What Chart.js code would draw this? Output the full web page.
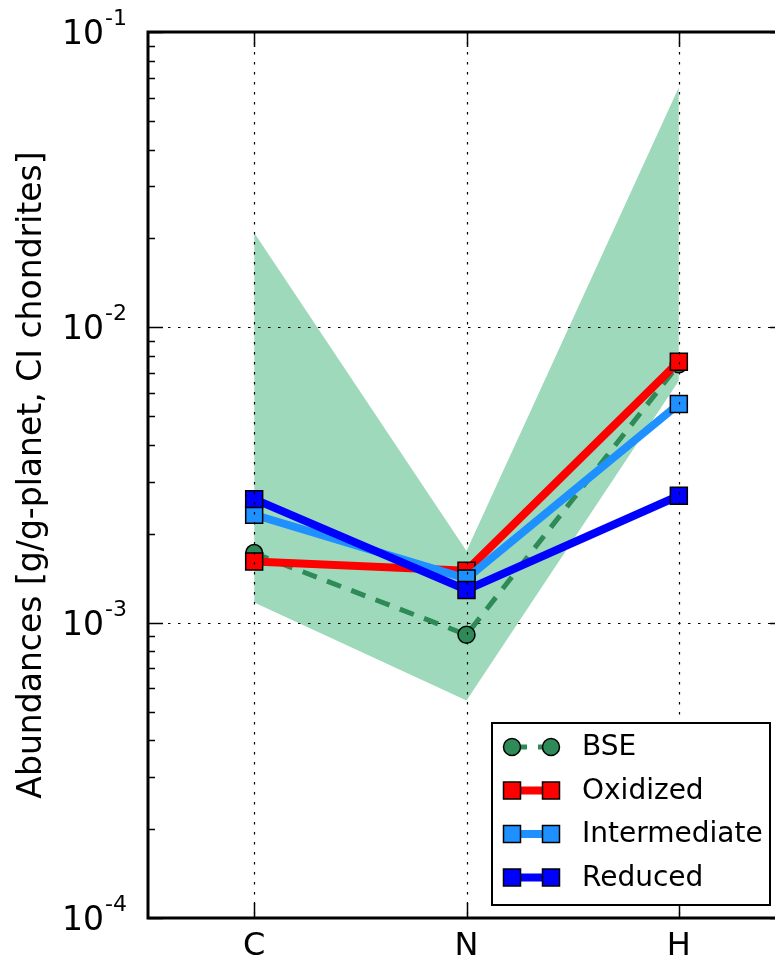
<!DOCTYPE html>
<html>
<head>
<meta charset="utf-8">
<script src="https://cdn.jsdelivr.net/npm/chart.js@4"></script>
<style>
  html, body { margin: 0; padding: 0; background: #fff; overflow: hidden; }
  #wrap { width: 775px; height: 960px; overflow: hidden; }
</style>
</head>
<body>
<div id="wrap"><canvas id="graphCanvas" width="800" height="960"></canvas></div>
<script>
// categories on the x axis
const elements = ['C', 'N', 'H'];

// abundances (g/g-planet)
const bse = [1.72e-3, 0.91e-3, 7.5e-3];
const oxidized = [1.61e-3, 1.5e-3, 7.65e-3];
const intermediate = [2.32e-3, 1.41e-3, 5.5e-3];
const reduced = [2.62e-3, 1.29e-3, 2.69e-3];

// shaded BSE range
const bseUpper = [2.09e-2, 1.75e-3, 6.5e-2];
const bseLower = [1.17e-3, 0.545e-3, 6.6e-3];

// y tick decades
const yDecades = [-4, -3, -2, -1];

const yTitle = 'Abundances [g/g-planet, CI chondrites]';
const FONT = '"DejaVu Sans", sans-serif';

function pts(arr) {
    return arr.map((v, i) => ({ x: i, y: v }));
}

// grid, frame, ticks, labels and legend drawn on top of the datasets
const decorPlugin = {
    id: 'decor',
    afterDatasetsDraw(chart) {
        const ctx = chart.ctx;
        const area = chart.chartArea;
        const xs = chart.scales.x;
        const ys = chart.scales.y;
        ctx.save();

        // dotted grid lines
        ctx.strokeStyle = '#000';
        ctx.lineWidth = 1.2;
        ctx.setLineDash([2.5, 7.5]);
        elements.forEach((e, i) => {
            const px = Math.round(xs.getPixelForValue(i)) + 0.5;
            ctx.beginPath();
            ctx.moveTo(px, area.top);
            ctx.lineTo(px, area.bottom);
            ctx.stroke();
        });
        yDecades.forEach(d => {
            const py = Math.round(ys.getPixelForValue(Math.pow(10, d))) + 0.5;
            if (py <= area.top + 2 || py >= area.bottom - 2) return;
            ctx.beginPath();
            ctx.moveTo(area.left, py);
            ctx.lineTo(area.right, py);
            ctx.stroke();
        });
        ctx.setLineDash([]);

        // ticks (pointing inward)
        ctx.lineWidth = 1.5;
        elements.forEach((e, i) => {
            const px = Math.round(xs.getPixelForValue(i)) + 0.5;
            ctx.beginPath();
            ctx.moveTo(px, area.bottom);
            ctx.lineTo(px, area.bottom - 15);
            ctx.moveTo(px, area.top);
            ctx.lineTo(px, area.top + 15);
            ctx.stroke();
        });
        for (let d = yDecades[0]; d <= yDecades[yDecades.length - 1]; d++) {
            for (let m = 1; m <= 9; m++) {
                const v = m * Math.pow(10, d);
                if (v > 0.1 + 1e-9) continue;
                const py = Math.round(ys.getPixelForValue(v)) + 0.5;
                const len = m === 1 ? 15 : 7;
                ctx.beginPath();
                ctx.moveTo(area.left, py);
                ctx.lineTo(area.left + len, py);
                ctx.moveTo(area.right, py);
                ctx.lineTo(area.right - len, py);
                ctx.stroke();
            }
        }

        // frame
        ctx.lineWidth = 3;
        ctx.strokeRect(area.left, area.top, area.right - area.left, area.bottom - area.top);

        // y tick labels 10^d
        ctx.fillStyle = '#000';
        yDecades.forEach(d => {
            const py = ys.getPixelForValue(Math.pow(10, d));
            ctx.font = '33px ' + FONT;
            ctx.textAlign = 'right';
            ctx.textBaseline = 'alphabetic';
            ctx.fillText('10', 104, py + 12);
            ctx.font = '22px ' + FONT;
            ctx.textAlign = 'left';
            ctx.fillText(String(d), 105, py - 7);
        });

        // x tick labels
        ctx.font = '32px ' + FONT;
        ctx.textAlign = 'center';
        elements.forEach((e, i) => {
            ctx.fillText(e, xs.getPixelForValue(i), 955);
        });

        // y axis title
        ctx.save();
        ctx.translate(41, (area.top + area.bottom) / 2);
        ctx.rotate(-Math.PI / 2);
        ctx.font = '33px ' + FONT;
        ctx.textAlign = 'center';
        ctx.textBaseline = 'alphabetic';
        ctx.fillText(yTitle, 0, 0);
        ctx.restore();

        // legend box
        const lx = 492, ly = 723, lw = 278, lh = 182;
        ctx.fillStyle = '#fff';
        ctx.fillRect(lx, ly, lw, lh);
        ctx.lineWidth = 2;
        ctx.strokeStyle = '#000';
        ctx.strokeRect(lx, ly, lw, lh);

        const series = chart.data.datasets.filter(ds => ds.showInLegend);
        series.forEach((ds, k) => {
            const cy = 747 + k * 43.5;
            const x1 = 512, x2 = 551;
            ctx.strokeStyle = ds.borderColor;
            ctx.lineWidth = ds.borderWidth;
            ctx.setLineDash(ds.borderDash || []);
            ctx.beginPath();
            ctx.moveTo(x1, cy);
            ctx.lineTo(x2, cy);
            ctx.stroke();
            ctx.setLineDash([]);
            [x1, x2].forEach(mx => {
                ctx.fillStyle = ds.pointBackgroundColor;
                ctx.strokeStyle = '#000';
                ctx.lineWidth = 1.5;
                ctx.beginPath();
                if (ds.pointStyle === 'rect') {
                    ctx.rect(mx - 8.5, cy - 8.5, 17, 17);
                } else {
                    ctx.arc(mx, cy, 8.5, 0, Math.PI * 2);
                }
                ctx.fill();
                ctx.stroke();
            });
            ctx.fillStyle = '#000';
            ctx.font = '28px ' + FONT;
            ctx.textAlign = 'left';
            ctx.textBaseline = 'middle';
            ctx.fillText(ds.label, 582, cy + 1);
        });

        ctx.restore();
    }
};

function lineSet(label, data, color, style, order, extra) {
    return Object.assign({
        label: label,
        data: pts(data),
        borderColor: color,
        borderWidth: 8,
        pointStyle: style,
        pointRadius: style === 'rect' ? 12 : 8.5,
        pointBackgroundColor: color,
        pointBorderColor: '#000',
        pointBorderWidth: 1.5,
        fill: false,
        tension: 0,
        order: order,
        showInLegend: true
    }, extra || {});
}

function initializeChart() {
    const ctx = document.getElementById('graphCanvas').getContext('2d');
    new Chart(ctx, {
        type: 'line',
        data: {
            datasets: [
                lineSet('BSE', bse, '#2e8b57', 'circle', 4, { borderWidth: 5, borderDash: [15, 11] }),
                lineSet('Oxidized', oxidized, '#ff0000', 'rect', 3),
                lineSet('Intermediate', intermediate, '#1e90ff', 'rect', 2),
                lineSet('Reduced', reduced, '#0000ff', 'rect', 1),
                {
                    label: 'range upper',
                    data: pts(bseUpper),
                    borderWidth: 0,
                    borderColor: 'rgba(0,0,0,0)',
                    backgroundColor: '#9ed9bb',
                    pointRadius: 0,
                    fill: '+1',
                    order: 10
                },
                {
                    label: 'range lower',
                    data: pts(bseLower),
                    borderWidth: 0,
                    borderColor: 'rgba(0,0,0,0)',
                    pointRadius: 0,
                    fill: false,
                    order: 11
                }
            ]
        },
        options: {
            responsive: false,
            animation: false,
            devicePixelRatio: 1,
            layout: { padding: { left: 148, right: 15, top: 32, bottom: 42 } },
            scales: {
                x: { type: 'linear', min: -0.5, max: 2.5, display: false },
                y: { type: 'logarithmic', min: 1e-4, max: 1e-1, display: false }
            },
            plugins: {
                legend: { display: false },
                tooltip: { enabled: false }
            }
        },
        plugins: [decorPlugin]
    });
}

window.onload = initializeChart;
</script>
</body>
</html>
